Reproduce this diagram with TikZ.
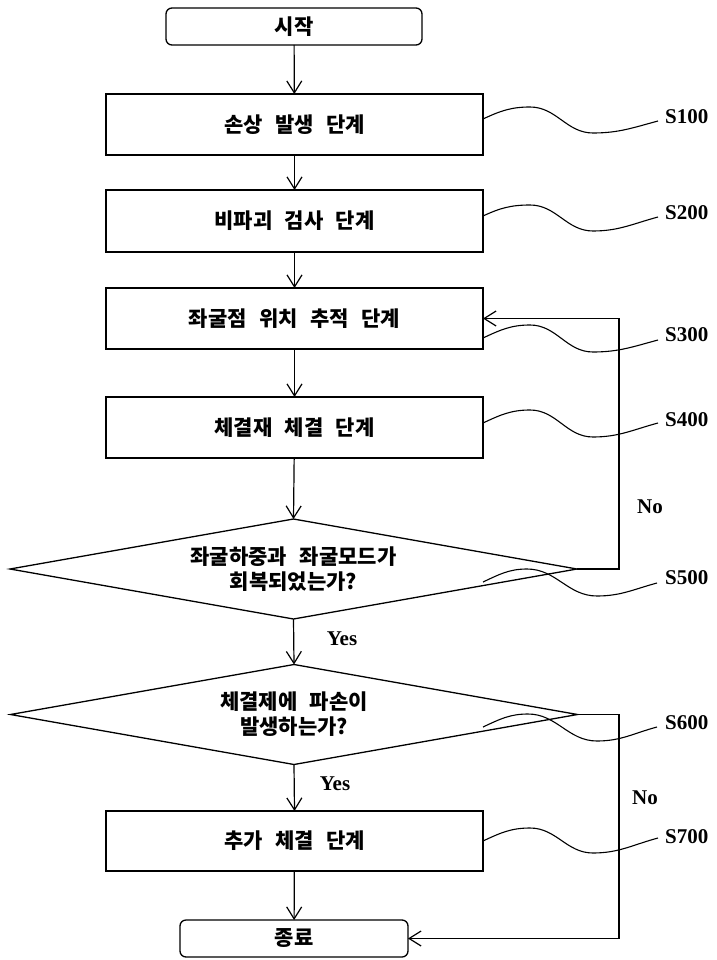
\documentclass[tikz,border=0pt]{standalone}
\usepackage{fontspec}
\setmainfont{Liberation Serif}
\newfontfamily\kr[WordSpace=2.6]{Noto Sans CJK KR}
\usetikzlibrary{shapes.geometric,arrows.meta,calc}
\tikzset{
  krfont/.style={font=\kr\bfseries\fontsize{21}{25}\selectfont},
  stepbox/.style={draw,line width=1.3pt,minimum width=377pt,minimum height=61pt,inner sep=0pt,outer sep=0pt,krfont},
  termbox/.style={draw,line width=1.3pt,rounded corners=6pt,minimum height=37pt,inner sep=0pt,outer sep=0pt,krfont},
  decbox/.style={diamond,draw,line width=1.3pt,aspect=5.67,minimum width=567pt,minimum height=100pt,inner sep=0pt,outer sep=0pt,align=center,krfont},
  arr/.style={line width=1.2pt,-{Straight Barb[length=12pt,width=15pt,line width=1.2pt]}},
  lead/.style={line width=1.1pt},
  steplab/.style={anchor=west,inner sep=0pt,font=\bfseries\fontsize{21}{24}\selectfont},
  yn/.style={inner sep=0pt,font=\bfseries\fontsize{21}{24}\selectfont}
}
\begin{document}
\begin{tikzpicture}[x=1pt,y=-1pt]
\useasboundingbox (0,0) rectangle (716,960);
% nodes
\node[termbox,minimum width=256pt] (start) at (294,26.5) {시작};
\node[stepbox] (s100) at (294.5,124.5) {손상 발생 단계};
\node[stepbox,minimum height=62pt] (s200) at (294.5,221) {비파괴 검사 단계};
\node[stepbox] (s300) at (294.5,318.5) {좌굴점 위치 추적 단계};
\node[stepbox] (s400) at (294.5,427.5) {체결재 체결 단계};
\node[decbox] (d500) at (293.5,569) {좌굴하중과 좌굴모드가\\회복되었는가?};
\node[decbox] (d600) at (294,714.5) {체결제에 파손이\\발생하는가?};
\node[stepbox,minimum height=60pt] (s700) at (294.5,841) {추가 체결 단계};
\node[termbox,minimum width=228pt] (end) at (294,938.5) {종료};
% step labels
\node[steplab] (l1) at (665,117) {S100};
\node[steplab] (l2) at (665,213) {S200};
\node[steplab] (l3) at (665,335) {S300};
\node[steplab] (l4) at (665,420) {S400};
\node[steplab] (l5) at (665,578) {S500};
\node[steplab] (l6) at (665,723) {S600};
\node[steplab] (l7) at (665,837) {S700};
% yes/no
\node[yn] (y1) at (342,639) {Yes};
\node[yn] (y2) at (335,784) {Yes};
\node[yn] (n1) at (650,507) {No};
\node[yn] (n2) at (645,798) {No};
% main flow
\draw[arr] (start) -- (s100);
\draw[arr] (s100) -- (s200);
\draw[arr] (s200) -- (s300);
\draw[arr] (s300) -- (s400);
\draw[arr] (s400) -- (d500.north);
\draw[arr] (d500.south) -- (d600.north);
\draw[arr] (d600.south) -- (s700.north);
\draw[arr] (s700) -- (end);
% loops
\coordinate (rx) at (619,0);
\draw[arr] (d500.east) -| (rx |- s300.east) -- (s300.east);
\draw[arr] (d600.east) -| (rx |- end.east) -- (end.east);
% leaders
\draw[lead] ($(s100.east)+(0,-5.5)$) to[out=25,in=180] (530,107) to[out=0,in=180] (593,133) to[out=0,in=195] ($(l1.west)+(-7,4)$);
\draw[lead] ($(s200.east)+(0,-5)$) to[out=25,in=180] (530,205) to[out=0,in=180] (593,231) to[out=0,in=195] ($(l2.west)+(-7,4)$);
\draw[lead] ($(s300.east)+(0,19.5)$) to[out=25,in=180] (530,325) to[out=0,in=180] (593,352) to[out=0,in=195] ($(l3.west)+(-7,5)$);
\draw[lead] ($(s400.east)+(0,-4.5)$) to[out=25,in=180] (530,410) to[out=0,in=180] (593,437) to[out=0,in=195] ($(l4.west)+(-7,3)$);
\coordinate (p5) at (483,582);
\coordinate (p6) at (483,727);
\draw[lead] (p5) to[out=25,in=180] (527,569) to[out=0,in=180] (597,596) to[out=0,in=195] ($(l5.west)+(-8,5)$);
\draw[lead] (p6) to[out=25,in=180] (528,714) to[out=0,in=180] (597,741) to[out=0,in=195] ($(l6.west)+(-8,4)$);
\draw[lead] (s700.east) to[out=25,in=180] (530,828) to[out=0,in=180] (593,853) to[out=0,in=195] ($(l7.west)+(-7,1)$);
\end{tikzpicture}
\end{document}
